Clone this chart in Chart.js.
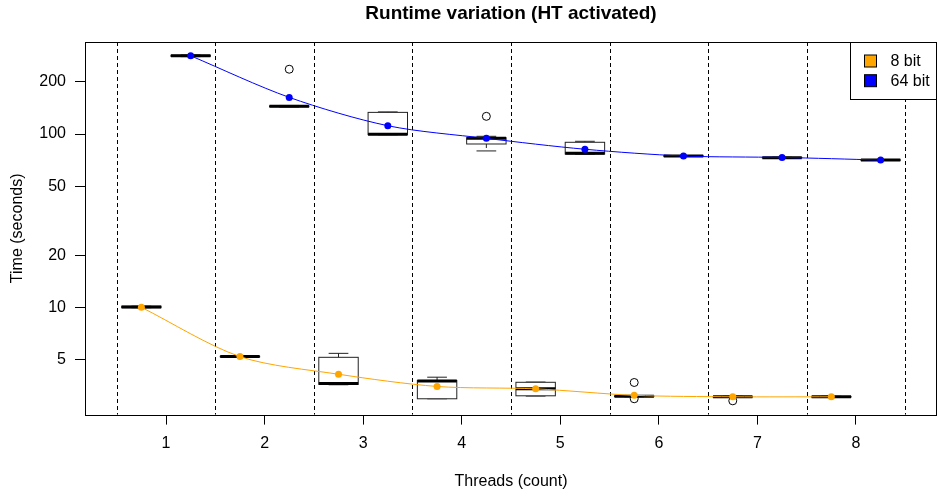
<!DOCTYPE html>
<html>
<head>
<meta charset="utf-8">
<title>Runtime variation (HT activated)</title>
<script src="https://cdn.jsdelivr.net/npm/chart.js@4.4.1/dist/chart.umd.min.js"></script>
<style>
  html, body { margin: 0; padding: 0; background: #fff; }
  canvas { display: block; }
</style>
</head>
<body>
<canvas id="runtimeChart" width="938" height="498"></canvas>
<script>
// thread counts on the x axis
const threads = [1, 2, 3, 4, 5, 6, 7, 8];
const yTicks = [5, 10, 20, 50, 100, 200];

// 8 bit runs: box statistics per thread count (seconds)
const bit8Low    = [10.0, 5.20, 3.60, 2.99, 3.10, 3.07, 3.05, 3.05];
const bit8Q1     = [10.0, 5.21, 3.62, 2.99, 3.11, 3.08, 3.06, 3.06];
const bit8Median = [10.1, 5.23, 3.66, 3.79, 3.41, 3.09, 3.07, 3.07];
const bit8Q3     = [10.2, 5.25, 5.18, 3.81, 3.72, 3.10, 3.08, 3.08];
const bit8High   = [10.2, 5.26, 5.46, 3.98, 3.73, 3.11, 3.09, 3.09];
const bit8Mean   = [10.05, 5.23, 4.14, 3.52, 3.41, 3.13, 3.07, 3.07];
const bit8Outliers = [[], [], [], [], [], [3.71, 2.99], [2.91], []];

// 64 bit runs
const bit64Low    = [279, 143, 99.0, 79.9, 76.5, 74.2, 72.7, 70.4];
const bit64Q1     = [280, 143.5, 99.2, 87.6, 76.7, 74.4, 72.9, 70.6];
const bit64Median = [282, 144.3, 99.6, 94.5, 77.5, 74.7, 73.1, 70.8];
const bit64Q3     = [284, 145, 133.2, 95.2, 89.6, 75.0, 73.3, 71.0];
const bit64High   = [285, 146, 134, 97.0, 90.8, 75.2, 73.5, 71.2];
const bit64Mean   = [282, 162.5, 111.6, 94.4, 81.7, 74.7, 73.3, 70.8];
const bit64Outliers = [[], [236], [], [126.4], [], [], [], []];

const separators = [0.5, 1.5, 2.5, 3.5, 4.5, 5.5, 6.5, 7.5, 8.5];

const ORANGE = '#FFA500';
const BLUE = '#0000FF';
const FONT = "'Liberation Sans', Arial, Helvetica, sans-serif";
const TITLE = 'Runtime variation (HT activated)';

function meanPoints(means, shift) {
    return threads.map((t, i) => ({ x: t + shift, y: means[i] }));
}

function outlierPoints(list, shift) {
    let pts = [];
    list.forEach((vals, i) => vals.forEach(v => pts.push({ x: threads[i] + shift, y: v })));
    return pts;
}

const series = [
    { shift: -0.25, low: bit8Low, q1: bit8Q1, med: bit8Median, q3: bit8Q3, high: bit8High },
    { shift: 0.25, low: bit64Low, q1: bit64Q1, med: bit64Median, q3: bit64Q3, high: bit64High }
];

// separators, boxes and whiskers under the datasets; frame, title and legend on top
const boxPlugin = {
    id: 'boxes',
    beforeDatasetsDraw(chart) {
        const { ctx, chartArea, scales: { x, y } } = chart;
        ctx.save();
        ctx.strokeStyle = '#000';
        ctx.lineWidth = 1;
        ctx.setLineDash([4, 3]);
        separators.forEach(s => {
            const px = Math.round(x.getPixelForValue(s)) + 0.5;
            ctx.beginPath();
            ctx.moveTo(px, chartArea.top);
            ctx.lineTo(px, chartArea.bottom);
            ctx.stroke();
        });

        series.forEach(s => {
            threads.forEach((t, i) => {
                const c = t + s.shift;
                const xl = x.getPixelForValue(c - 0.2);
                const xr = x.getPixelForValue(c + 0.2);
                const xc = x.getPixelForValue(c);
                const cl = x.getPixelForValue(c - 0.1);
                const cr = x.getPixelForValue(c + 0.1);
                const yLow = y.getPixelForValue(s.low[i]);
                const yQ1 = y.getPixelForValue(s.q1[i]);
                const yMed = y.getPixelForValue(s.med[i]);
                const yQ3 = y.getPixelForValue(s.q3[i]);
                const yHigh = y.getPixelForValue(s.high[i]);

                ctx.strokeStyle = '#222';
                ctx.lineWidth = 1;
                // whiskers
                ctx.setLineDash([4, 3]);
                ctx.beginPath();
                ctx.moveTo(xc, yQ3); ctx.lineTo(xc, yHigh);
                ctx.moveTo(xc, yQ1); ctx.lineTo(xc, yLow);
                ctx.stroke();
                ctx.setLineDash([]);
                ctx.beginPath();
                ctx.moveTo(cl, yHigh); ctx.lineTo(cr, yHigh);
                ctx.moveTo(cl, yLow); ctx.lineTo(cr, yLow);
                ctx.stroke();
                // box
                ctx.fillStyle = '#fff';
                ctx.fillRect(xl, yQ3, xr - xl, yQ1 - yQ3);
                ctx.strokeRect(xl, yQ3, xr - xl, yQ1 - yQ3);
                // median
                ctx.strokeStyle = '#000';
                ctx.lineWidth = 3;
                ctx.beginPath();
                ctx.moveTo(xl, yMed); ctx.lineTo(xr, yMed);
                ctx.stroke();
            });
        });
        ctx.restore();
    },
    afterDraw(chart) {
        const { ctx, chartArea } = chart;
        ctx.save();
        // frame round the plot region
        ctx.strokeStyle = '#000';
        ctx.lineWidth = 1;
        const fl = Math.round(chartArea.left) + 0.5;
        const fr = Math.round(chartArea.right) - 0.5;
        const ft = Math.round(chartArea.top) + 0.5;
        const fb = Math.round(chartArea.bottom) + 0.5;
        ctx.strokeRect(fl, ft, fr - fl, fb - ft);

        // title centred over the plot region
        ctx.fillStyle = '#000';
        ctx.font = 'bold 19px ' + FONT;
        ctx.textAlign = 'center';
        ctx.textBaseline = 'middle';
        ctx.fillText(TITLE, (chartArea.left + chartArea.right) / 2, 14);

        // legend, top right
        const lx = 850.5, ly = ft, lw = fr - 850.5, lh = 57;
        ctx.fillStyle = '#fff';
        ctx.fillRect(lx, ly, lw, lh);
        ctx.strokeRect(lx, ly, lw, lh);
        const entries = [['8 bit', ORANGE], ['64 bit', BLUE]];
        ctx.font = '16px ' + FONT;
        ctx.textBaseline = 'middle';
        ctx.textAlign = 'left';
        entries.forEach((e, i) => {
            const cy = 61 + i * 19.7;
            ctx.fillStyle = e[1];
            ctx.fillRect(864.5, cy - 6, 12, 12);
            ctx.strokeRect(864.5, cy - 6, 12, 12);
            ctx.fillStyle = '#000';
            ctx.fillText(e[0], 890.5, cy + 1);
        });
        ctx.restore();
    }
};

let ctx = document.getElementById('runtimeChart').getContext('2d');

let runtimeChart = new Chart(ctx, {
    type: 'line',
    data: {
        datasets: [
            {
                label: '8 bit',
                data: meanPoints(bit8Mean, -0.25),
                borderColor: ORANGE,
                backgroundColor: ORANGE,
                borderWidth: 1,
                pointRadius: 3.5,
                pointBorderWidth: 0,
                tension: 0.3,
                fill: false
            },
            {
                label: '64 bit',
                data: meanPoints(bit64Mean, 0.25),
                borderColor: BLUE,
                backgroundColor: BLUE,
                borderWidth: 1,
                pointRadius: 3.5,
                pointBorderWidth: 0,
                tension: 0.3,
                fill: false
            },
            {
                label: 'outliers',
                data: outlierPoints(bit8Outliers, -0.25).concat(outlierPoints(bit64Outliers, 0.25)),
                showLine: false,
                pointStyle: 'circle',
                pointRadius: 4,
                borderColor: '#000',
                backgroundColor: 'rgba(0,0,0,0)',
                pointBorderWidth: 1
            }
        ]
    },
    options: {
        responsive: false,
        animation: false,
        events: [],
        layout: { autoPadding: false, padding: { right: 1, bottom: 0, left: 0, top: 42 } },
        plugins: {
            legend: { display: false },
            tooltip: { enabled: false },
            title: { display: false }
        },
        scales: {
            x: {
                type: 'linear',
                min: 0.178,
                max: 8.822,
                afterBuildTicks(scale) {
                    scale.ticks = threads.map(v => ({ value: v }));
                },
                afterFit(scale) {
                    scale.height = 83.4;
                    scale.paddingLeft = 0;
                    scale.paddingRight = 0;
                },
                grid: { display: true, drawOnChartArea: false, drawTicks: true, tickLength: 10, color: '#000' },
                border: { display: false },
                ticks: {
                    color: '#000',
                    font: { family: FONT, size: 16 },
                    padding: 9.5,
                    maxRotation: 0,
                    callback: v => String(v)
                },
                title: {
                    display: true,
                    text: 'Threads (count)',
                    color: '#000',
                    font: { family: FONT, size: 16, lineHeight: 1.2 },
                    padding: { top: 0, bottom: 6.4 }
                }
            },
            y: {
                type: 'logarithmic',
                min: 2.424,
                max: 338.6,
                afterBuildTicks(scale) {
                    scale.ticks = yTicks.map(v => ({ value: v }));
                },
                afterFit(scale) {
                    scale.width = 85;
                    scale.paddingTop = 0;
                    scale.paddingBottom = 0;
                },
                grid: { display: true, drawOnChartArea: false, drawTicks: true, tickLength: 10, color: '#000' },
                border: { display: false },
                ticks: {
                    color: '#000',
                    font: { family: FONT, size: 16 },
                    padding: 9,
                    callback: v => String(v)
                },
                title: {
                    display: true,
                    text: 'Time (seconds)',
                    color: '#000',
                    font: { family: FONT, size: 16, lineHeight: 1.2 },
                    padding: { top: 8.4, bottom: 0 }
                }
            }
        }
    },
    plugins: [boxPlugin]
});
</script>
</body>
</html>
